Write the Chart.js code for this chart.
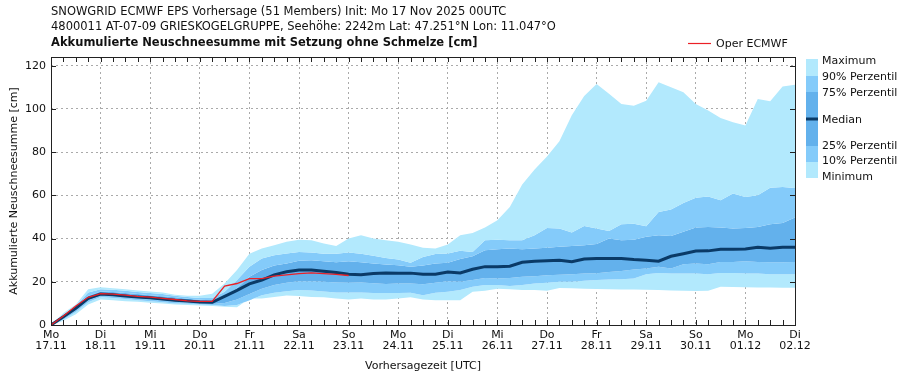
<!DOCTYPE html>
<html><head><meta charset="utf-8">
<script src="https://cdn.jsdelivr.net/npm/chart.js@4.4.1/dist/chart.umd.min.js"></script>
<style>html,body{margin:0;padding:0;background:#fff;}#wrap{width:909px;height:380px;position:relative;}</style>
</head><body><div id="wrap"><canvas id="c" width="909" height="380"></canvas></div>
<script>
// ---- data ----
const hours = [0,6,12,18,24,30,36,42,48,54,60,66,72,78,84,90,96,102,108,114,120,126,132,138,144,150,156,162,168,174,180,186,192,198,204,210,216,222,228,234,240,246,252,258,264,270,276,282,288,294,300,306,312,318,324,330,336,342,348,354,360];
const dayTicks = [0,24,48,72,96,120,144,168,192,216,240,264,288,312,336,360];
const dayLabels = [["Mo","17.11"],["Di","18.11"],["Mi","19.11"],["Do","20.11"],["Fr","21.11"],["Sa","22.11"],["So","23.11"],["Mo","24.11"],["Di","25.11"],["Mi","26.11"],["Do","27.11"],["Fr","28.11"],["Sa","29.11"],["So","30.11"],["Mo","01.12"],["Di","02.12"]];
const yTicks = [0,20,40,60,80,100,120];
const maxV = [0,5.5,9.5,16.5,17.5,17,16.5,16,15.5,15,14,13.5,13.5,14.5,19.2,25.4,33,35.4,36.9,38.5,39.5,39.2,37.7,36.5,40,41.5,40,39.2,38.5,37.2,35.8,35.4,37.2,41.5,42.6,45.1,48.5,54.6,65,72,78,85,97,106,111.5,107,102.3,101.5,103.8,112.3,110,107.7,102.3,99.2,95.8,93.8,92.3,104.6,103.5,110.3,111.2];
const p90 = [0,4.5,9,15,16.5,16.3,15.8,15.3,14.8,14.3,13.5,13,12.5,12.5,15.4,20.8,27,30.8,32.3,33.1,33.8,33.6,33,33,33.5,33,32,31,30.3,28.8,31.5,32.8,33.1,34.3,33.8,39.2,39.5,39.2,39.2,41.5,44.9,44.6,42.8,45.8,44.6,43.5,46.6,46.9,45.7,52.3,53.4,56.4,58.9,59.5,57.7,60.8,59.2,60,63.5,63.8,63.4];
const p75 = [0,4,8.5,13.5,15.5,15.3,14.8,14.3,13.8,13.3,12.8,12.2,11.7,11.5,13,17,22.3,25.5,27.5,28.5,29.7,30,29.5,29,29.5,29,28.5,28,27.7,27,27.5,28.5,28.8,30.5,31.8,34.6,35.1,35.4,35.1,35.4,35.7,36.2,36.6,36.9,37.5,40,39.2,39.5,40.8,41.5,41.2,43.1,45.1,45.4,45.1,44.6,44.9,45.4,46.6,47.2,49.7];
const median = [0,3.8,7.7,12.3,14.3,14,13.4,12.9,12.6,12,11.4,11.1,10.6,10.5,13.2,16,19,20.8,23.2,24.6,25.4,25.4,24.9,24.3,23.5,23.2,23.8,24.1,24,24,23.5,23.5,24.5,24.1,25.8,27,27,27.2,29,29.5,29.7,30,29.3,30.5,30.8,30.8,30.8,30.3,30,29.5,31.8,33,34.2,34.3,35,35,35.2,36,35.5,36,36];
const p25 = [0,3,7,11.5,13.5,13.3,12.8,12.3,11.8,11.3,10.8,10.4,10,9.7,10.2,11.8,14.3,16.8,18.5,19.5,20.3,20.3,20,19.7,19.5,19.7,19.3,19,19.2,19.2,18.9,19.5,20.3,20,20.8,21.8,21.5,21.8,22.3,22.6,23,23.2,23.5,23.8,24,24.5,25,25.7,26.1,26.9,26.1,28.1,28.5,28.1,29.2,29.2,29.5,29.2,29,29,29.2];
const p10 = [0,2.5,6,10.5,13,12.5,12,11.5,11,10.5,10,9.8,9.5,9.2,8.8,9.2,11.5,13.8,14.9,15.6,16.2,16,15.5,15,15,15,14.8,14.8,14.8,14.9,13.8,14.9,15.4,16.2,17.7,18.5,18.5,18,18.5,19.2,19.5,20,20,20.5,20.8,21,21.2,21.5,23.5,24.1,23.8,23.8,23.8,23.5,24.1,24.1,23.8,23.8,23.5,23.5,23.5];
const minV = [0,2,5,9.5,11.8,11.5,11,10.7,10.3,10,9.5,9.2,9,8.8,8.5,8.2,12.3,12.3,13,13.7,13.4,13,12.8,12.3,11.8,12.3,11.8,11.8,12.3,12.8,11.8,11.5,11.5,11.5,15.4,15.8,16.8,16.5,16.2,16.2,15.8,17.1,17,16.8,16.6,16.5,16.4,16.4,16.3,16.2,16,15.8,15.7,15.8,17.7,17.6,17.5,17.4,17.3,17.2,17.2];
const oper = [0,4.2,8.8,12.8,14.5,14.3,13.8,13.2,12.9,12.3,11.8,11.2,10.9,10.9,18,19.2,21.5,21.5,22.6,23.2,23.8,24.1,23.8,23.4,22.9];

const titleLines = ["SNOWGRID ECMWF EPS Vorhersage (51 Members) Init: Mo 17 Nov 2025 00UTC",
  "4800011 AT-07-09 GRIESKOGELGRUPPE, Seehöhe: 2242m Lat: 47.251\u00B0N Lon: 11.047\u00B0O",
  "Akkumulierte Neuschneesumme mit Setzung ohne Schmelze [cm]"];
const legendLabels = ["Maximum","90% Perzentil","75% Perzentil","Median","25% Perzentil","10% Perzentil","Minimum"];

// ---- style ----
const C_LIGHT = 'rgb(178,233,253)';
const C_MID = 'rgb(132,203,250)';
const C_DARK = 'rgb(99,177,236)';
const C_MED = 'rgb(10,58,103)';
const C_OPER = 'rgb(235,32,38)';
const FONT = '"DejaVu Sans", sans-serif';

const pts = (arr) => arr.map((v, i) => ({x: hours[i], y: v}));
const band = (arr, color, fill) => ({data: pts(arr), borderWidth: 0, pointRadius: 0, backgroundColor: color, fill: fill, tension: 0});

const decor = {
  id: 'decor',
  afterDatasetsDraw(chart) {
    const {ctx, chartArea: a, scales: {x, y}} = chart;
    ctx.save();
    ctx.strokeStyle = '#222';
    ctx.lineWidth = 1;
    ctx.beginPath();
    hours.forEach(h => {
      const px = Math.round(x.getPixelForValue(h)) + 0.5;
      ctx.moveTo(px, a.bottom); ctx.lineTo(px, a.bottom - 5);
      ctx.moveTo(px, a.top); ctx.lineTo(px, a.top + 5);
    });
    yTicks.forEach(v => {
      const py = Math.round(y.getPixelForValue(v)) + 0.5;
      ctx.moveTo(a.left, py); ctx.lineTo(a.left + 5, py);
      ctx.moveTo(a.right, py); ctx.lineTo(a.right - 5, py);
    });
    ctx.stroke();
    ctx.strokeRect(Math.round(a.left) + 0.5, Math.round(a.top) + 0.5, Math.round(a.right - a.left), Math.round(a.bottom - a.top));
    ctx.restore();
  },
  afterDraw(chart) {
    const ctx = chart.ctx;
    ctx.save();
    ctx.fillStyle = '#111';
    ctx.textBaseline = 'middle';
    ctx.textAlign = 'left';
    ctx.font = '11.5px ' + FONT;
    ctx.fillText(titleLines[0], 51, 12);
    ctx.fillText(titleLines[1], 51, 27);
    ctx.font = 'bold 11.5px ' + FONT;
    ctx.fillText(titleLines[2], 51, 43);
    ctx.strokeStyle = C_OPER; ctx.lineWidth = 1.2;
    ctx.beginPath(); ctx.moveTo(688, 43.5); ctx.lineTo(711, 43.5); ctx.stroke();
    ctx.font = '11px ' + FONT;
    ctx.fillText('Oper ECMWF', 716, 44);
    const lx = 806, lw = 12;
    const segs = [[59,76,C_LIGHT],[76,92,C_MID],[92,146,C_DARK],[146,162,C_MID],[162,178,C_LIGHT]];
    segs.forEach(s => { ctx.fillStyle = s[2]; ctx.fillRect(lx, s[0], lw, s[1] - s[0]); });
    ctx.fillStyle = C_MED; ctx.fillRect(lx, 117.5, lw, 3);
    ctx.fillStyle = '#111';
    const ly = [61, 77, 93, 120, 146, 161.5, 177.5];
    legendLabels.forEach((t, i) => ctx.fillText(t, 822, ly[i]));
    ctx.restore();
  }
};

new Chart(document.getElementById('c'), {
  type: 'line',
  data: {
    datasets: [
      {label: 'Oper ECMWF', data: pts(oper), borderColor: C_OPER, borderWidth: 1.3, pointRadius: 0, fill: false, tension: 0},
      {label: 'Median', data: pts(median), borderColor: C_MED, borderWidth: 3, pointRadius: 0, fill: false, tension: 0},
      band(maxV, C_LIGHT, '+1'),
      band(p90, C_MID, '+1'),
      band(p75, C_DARK, '+1'),
      band(p25, C_MID, '+1'),
      band(p10, C_LIGHT, '+1'),
      band(minV, C_LIGHT, false)
    ]
  },
  options: {
    responsive: false,
    animation: false,
    layout: {padding: {left: 0, top: 57, right: 114, bottom: 0}},
    plugins: {legend: {display: false}, tooltip: {enabled: false}, title: {display: false}},
    scales: {
      x: {
        type: 'linear', min: 0, max: 360,
        afterBuildTicks: (s) => { s.ticks = dayTicks.map(v => ({value: v})); },
        afterFit: (s) => { s.height = 55; },
        ticks: {
          autoSkip: false, maxRotation: 0, padding: 5, color: '#111',
          font: {family: FONT, size: 11, lineHeight: 1.0},
          callback: (v) => dayLabels[dayTicks.indexOf(v)]
        },
        grid: {color: '#aaa', lineWidth: 1, drawTicks: false},
        border: {display: false, dash: [2, 3]},
        title: {display: true, text: 'Vorhersagezeit [UTC]', color: '#111', font: {family: FONT, size: 11}, padding: {top: 0, bottom: 7}}
      },
      y: {
        min: 0, max: 124,
        afterBuildTicks: (s) => { s.ticks = yTicks.map(v => ({value: v})); },
        afterFit: (s) => { s.width = 51; },
        ticks: {padding: 5, color: '#111', font: {family: FONT, size: 11}},
        grid: {color: '#aaa', lineWidth: 1, drawTicks: false},
        border: {display: false, dash: [2, 3]},
        title: {display: true, text: 'Akkumulierte Neuschneesumme [cm]', color: '#111', font: {family: FONT, size: 11}, padding: {top: 8, bottom: 0}}
      }
    }
  },
  plugins: [decor]
});
</script></body></html>
